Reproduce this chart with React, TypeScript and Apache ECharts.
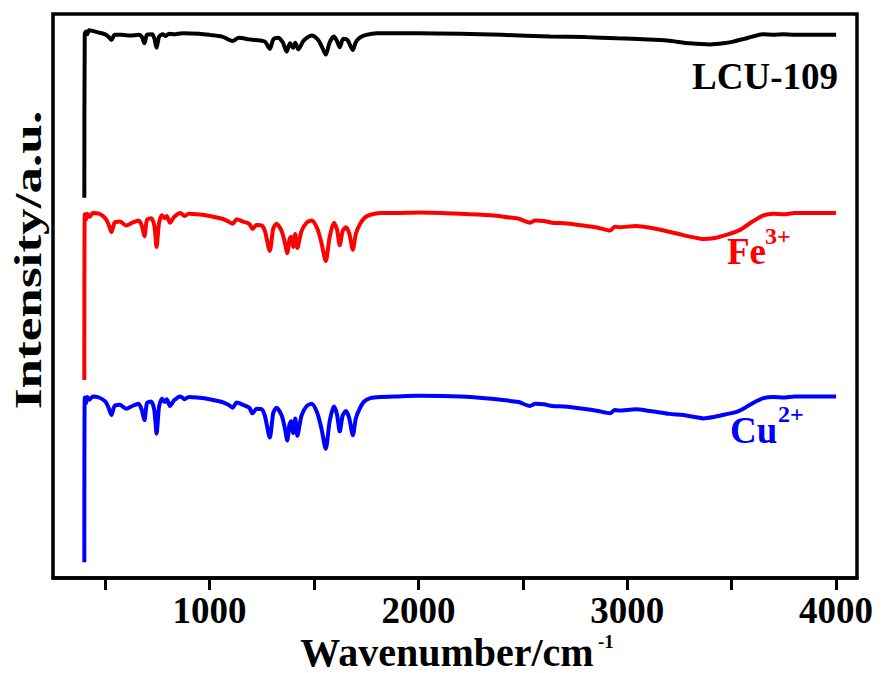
import React, { useEffect, useRef } from "react";
import * as echarts from "echarts";

// LCU-109 (black) spectrum: wavenumber (cm-1) and stacked intensity (a.u.)
const lcuX = [400, 402, 408, 414, 422, 440, 470, 500, 515, 530, 545, 580, 620, 660, 675, 688, 700, 725, 735, 746, 758, 775, 790, 805, 830, 870, 950, 1000, 1060, 1110, 1140, 1190, 1220, 1265, 1288, 1305, 1326, 1350, 1369, 1385, 1400, 1410, 1425, 1450, 1489, 1520, 1540, 1556, 1575, 1595, 1610, 1623, 1640, 1660, 1686, 1700, 1719, 1750, 1800, 1900, 2000, 2200, 2400, 2630, 2800, 2951, 3100, 3191, 3300, 3397, 3460, 3507, 3560, 3610, 3651, 3700, 3747, 3800, 4000];
const lcuY = [67.4, 96.5, 96.9, 96.4, 97.1, 97.0, 96.7, 96.4, 96.0, 95.4, 96.3, 96.3, 96.2, 96.3, 96.0, 94.8, 96.3, 96.4, 95.7, 94.0, 96.0, 96.4, 96.1, 96.5, 96.4, 96.6, 96.5, 96.3, 96.0, 95.2, 95.8, 95.5, 95.4, 95.1, 93.8, 95.5, 95.8, 95.0, 93.3, 94.8, 94.0, 94.9, 93.7, 95.3, 96.2, 95.4, 94.0, 92.8, 95.0, 96.0, 95.2, 94.1, 95.6, 95.4, 93.6, 95.0, 95.8, 96.3, 96.6, 96.6, 96.6, 96.5, 96.3, 96.0, 95.9, 95.7, 95.5, 95.3, 94.8, 94.6, 94.8, 95.1, 95.6, 96.1, 96.4, 96.3, 96.4, 96.3, 96.3];

// Fe3+ (red) and Cu2+ (blue) spectra share wavenumbers
const ionX = [400, 402, 408, 414, 425, 440, 470, 500, 515, 530, 545, 570, 600, 630, 660, 675, 688, 700, 720, 735, 746, 758, 772, 785, 795, 810, 830, 860, 880, 900, 940, 1000, 1060, 1090, 1110, 1130, 1160, 1190, 1205, 1225, 1250, 1265, 1288, 1305, 1320, 1345, 1360, 1372, 1382, 1390, 1400, 1410, 1420, 1440, 1465, 1489, 1515, 1535, 1556, 1575, 1595, 1610, 1623, 1637, 1652, 1668, 1686, 1700, 1718, 1740, 1770, 1820, 1900, 2000, 2200, 2350, 2438, 2480, 2534, 2560, 2600, 2640, 2700, 2788, 2860, 2918, 2940, 2960, 3040, 3110, 3200, 3268, 3330, 3365, 3420, 3470, 3527, 3560, 3600, 3652, 3700, 3747, 3800, 4000];
const feY = [35.1, 64.5, 63.5, 64.6, 64.0, 64.7, 64.6, 63.8, 62.8, 61.3, 63.0, 63.2, 62.5, 63.0, 63.4, 62.5, 60.6, 63.5, 63.8, 62.5, 58.7, 63.0, 64.3, 63.8, 64.2, 63.0, 64.0, 64.7, 64.2, 64.6, 64.5, 64.2, 63.7, 63.2, 62.8, 63.6, 63.2, 62.8, 61.9, 62.6, 62.5, 61.5, 58.0, 62.0, 62.8, 61.5, 59.5, 57.6, 60.0, 60.5, 58.7, 61.0, 58.5, 61.5, 63.0, 63.4, 62.0, 59.5, 56.2, 60.5, 63.0, 61.8, 59.0, 61.5, 62.2, 61.2, 58.2, 61.0, 62.6, 63.8, 64.4, 64.7, 64.7, 64.8, 64.6, 64.3, 63.9, 63.7, 63.0, 63.4, 63.3, 63.0, 62.9, 62.5, 62.1, 61.6, 62.3, 62.2, 62.4, 62.1, 61.4, 60.8, 60.3, 60.1, 60.3, 60.8, 61.5, 62.2, 63.2, 64.3, 64.6, 64.5, 64.7, 64.7];
const cuY = [2.8, 32.0, 31.0, 32.1, 31.6, 32.2, 32.0, 31.3, 30.3, 28.9, 30.5, 30.7, 30.0, 30.5, 30.9, 29.8, 28.0, 31.0, 31.3, 29.8, 25.6, 30.4, 31.8, 31.2, 31.7, 30.5, 31.5, 32.2, 31.7, 32.1, 32.0, 31.7, 31.2, 30.7, 30.2, 31.1, 30.7, 30.2, 29.2, 30.0, 29.9, 28.7, 24.9, 29.3, 30.2, 28.8, 26.6, 24.4, 27.2, 27.8, 25.7, 28.3, 25.2, 28.8, 30.5, 30.9, 29.3, 26.6, 22.9, 27.8, 30.4, 29.0, 26.0, 28.8, 29.6, 28.4, 25.3, 28.3, 30.0, 31.3, 31.9, 32.1, 32.2, 32.3, 32.2, 31.8, 31.4, 31.2, 30.5, 30.9, 30.8, 30.5, 30.4, 30.0, 29.6, 29.2, 29.8, 29.7, 29.9, 29.6, 29.1, 28.9, 28.5, 28.3, 28.6, 29.0, 29.5, 30.1, 31.0, 31.9, 32.1, 32.0, 32.2, 32.2];

const tickValues = [500, 1000, 1500, 2000, 2500, 3000, 3500, 4000];
const labelValues = [1000, 2000, 3000, 4000];

const FONT = '"Liberation Serif", "Times New Roman", serif';

function pairs(xs: number[], ys: number[]) {
  return xs.map((x, i) => [x, ys[i]]);
}

export default function App() {
  const ref = useRef<HTMLDivElement>(null);
  useEffect(() => {
    if (!ref.current) return;
    const chart = echarts.init(ref.current, null, { renderer: "svg" });
    const lineSeries = (name: string, data: number[][], color: string) => ({
      name,
      type: "line",
      data,
      showSymbol: false,
      symbol: "none",
      smooth: 0.25,
      lineStyle: { color, width: 4 },
      itemStyle: { color },
      z: 3,
    });
    chart.setOption({
      animation: false,
      backgroundColor: "#fff",
      grid: {
        left: 53,
        right: 25,
        top: 14,
        bottom: 95,
        show: true,
        borderColor: "#000",
        borderWidth: 3.5,
        backgroundColor: "transparent",
      },
      xAxis: {
        type: "value",
        min: 250,
        max: 4100,
        axisLine: { show: true, lineStyle: { color: "#000", width: 3.5 } },
        axisTick: {
          show: true,
          inside: false,
          length: 12,
          customValues: tickValues,
          lineStyle: { color: "#000", width: 3 },
        },
        axisLabel: {
          show: true,
          customValues: labelValues,
          formatter: (v: number) => String(v),
          margin: 14,
          color: "#000",
          fontFamily: FONT,
          fontWeight: "bold",
          fontSize: 37,
        },
        splitLine: { show: false },
      },
      yAxis: {
        type: "value",
        min: 0,
        max: 100,
        axisLine: { show: false },
        axisTick: { show: false },
        axisLabel: { show: false },
        splitLine: { show: false },
      },
      series: [
        lineSeries("LCU-109", pairs(lcuX, lcuY), "#000000"),
        lineSeries("Fe3+", pairs(ionX, feY), "#ff0000"),
        lineSeries("Cu2+", pairs(ionX, cuY), "#0000ff"),
      ],
      graphic: [
        {
          type: "text",
          x: 28,
          y: 260,
          rotation: Math.PI / 2,
          scaleX: 1.4,
          style: {
            text: "Intensity/a.u.",
            font: `bold 38px ${FONT}`,
            fill: "#000",
            align: "center",
            verticalAlign: "middle",
          },
        },
        {
          type: "text",
          x: 447,
          y: 652,
          style: {
            text: "Wavenumber/cm",
            font: `bold 40px ${FONT}`,
            fill: "#000",
            align: "center",
            verticalAlign: "middle",
          },
        },
        {
          type: "text",
          x: 598,
          y: 641,
          style: {
            text: "-1",
            font: `bold 19px ${FONT}`,
            fill: "#000",
            align: "left",
            verticalAlign: "middle",
          },
        },
        {
          type: "text",
          x: 838,
          y: 76,
          style: {
            text: "LCU-109",
            font: `bold 37px ${FONT}`,
            fill: "#000",
            align: "right",
            verticalAlign: "middle",
          },
        },
        {
          type: "text",
          x: 727,
          y: 251,
          style: {
            text: "Fe",
            font: `bold 37px ${FONT}`,
            fill: "#ff0000",
            align: "left",
            verticalAlign: "middle",
          },
        },
        {
          type: "text",
          x: 765,
          y: 236,
          style: {
            text: "3+",
            font: `bold 24px ${FONT}`,
            fill: "#ff0000",
            align: "left",
            verticalAlign: "middle",
          },
        },
        {
          type: "text",
          x: 730,
          y: 430,
          style: {
            text: "Cu",
            font: `bold 37px ${FONT}`,
            fill: "#0000ff",
            align: "left",
            verticalAlign: "middle",
          },
        },
        {
          type: "text",
          x: 778,
          y: 414,
          style: {
            text: "2+",
            font: `bold 24px ${FONT}`,
            fill: "#0000ff",
            align: "left",
            verticalAlign: "middle",
          },
        },
      ],
    });
    return () => chart.dispose();
  }, []);
  return (
    <div
      ref={ref}
      style={{ position: "fixed", left: 0, top: 0, width: 882, height: 673, background: "#fff" }}
    />
  );
}
